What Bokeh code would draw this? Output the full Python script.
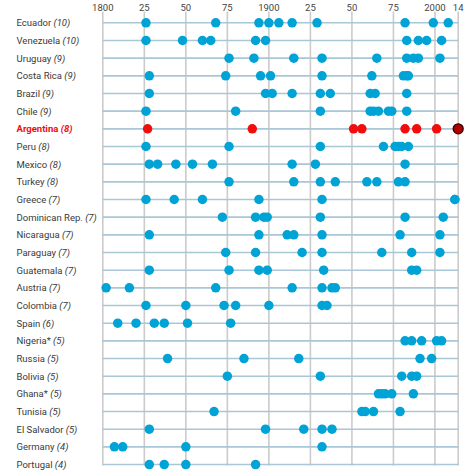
import glob
import subprocess
from bokeh.plotting import figure
from bokeh.models import ColumnDataSource, Range1d, FixedTicker
from bokeh.core.properties import value
from bokeh.embed import file_html
from bokeh.resources import INLINE

# ---------------- data ----------------
countries = ["Ecuador", "Venezuela", "Uruguay", "Costa Rica", "Brazil", "Chile",
             "Argentina", "Peru", "Mexico", "Turkey", "Greece", "Dominican Rep.",
             "Nicaragua", "Paraguay", "Guatemala", "Austria", "Colombia", "Spain",
             "Nigeria*", "Russia", "Bolivia", "Ghana*", "Tunisia", "El Salvador",
             "Germany", "Portugal"]
default_counts = [10, 10, 9, 9, 9, 9, 8, 8, 8, 8, 7, 7, 7, 7, 7, 7, 7, 6,
                  5, 5, 5, 5, 5, 5, 4, 4]
default_years = [
    [1826, 1868, 1894, 1900, 1906, 1914, 1929, 1982, 1999, 2008],   # Ecuador
    [1826, 1848, 1860, 1865, 1892, 1898, 1983, 1990, 1995, 2004],   # Venezuela
    [1876, 1891, 1915, 1932, 1965, 1983, 1987, 1990, 2003],         # Uruguay
    [1828, 1874, 1895, 1901, 1932, 1962, 1981, 1983, 1984],         # Costa Rica
    [1828, 1898, 1902, 1914, 1931, 1937, 1961, 1964, 1983],         # Brazil
    [1826, 1880, 1931, 1961, 1963, 1966, 1972, 1974, 1983],         # Chile
    [1827, 1890, 1951, 1956, 1982, 1989, 2001, 2014],               # Argentina
    [1826, 1876, 1931, 1969, 1976, 1978, 1980, 1984],               # Peru
    [1828, 1833, 1844, 1854, 1866, 1914, 1928, 1982],               # Mexico
    [1876, 1915, 1931, 1940, 1959, 1965, 1978, 1982],               # Turkey
    [1826, 1843, 1860, 1894, 1932, 2012, 2012],                     # Greece
    [1872, 1892, 1897, 1899, 1931, 1982, 2005],                     # Dominican Rep.
    [1828, 1894, 1911, 1915, 1932, 1979, 2003],                     # Nicaragua
    [1874, 1892, 1920, 1932, 1968, 1986, 2003],                     # Paraguay
    [1828, 1876, 1894, 1899, 1933, 1986, 1989],                     # Guatemala
    [1802, 1816, 1868, 1914, 1932, 1938, 1940],                     # Austria
    [1826, 1850, 1873, 1880, 1900, 1932, 1935],                     # Colombia
    [1809, 1820, 1831, 1837, 1851, 1877],                           # Spain
    [1982, 1986, 1992, 2001, 2004],                                 # Nigeria*
    [1839, 1885, 1918, 1991, 1998],                                 # Russia
    [1875, 1931, 1980, 1986, 1989],                                 # Bolivia
    [1966, 1968, 1970, 1974, 1987],                                 # Ghana*
    [1867, 1956, 1958, 1963, 1979],                                 # Tunisia
    [1828, 1898, 1921, 1932, 1938],                                 # El Salvador
    [1807, 1812, 1850, 1932],                                       # Germany
    [1828, 1837, 1850, 1892],                                       # Portugal
]
tick_years = [1800, 1825, 1850, 1875, 1900, 1925, 1950, 1975, 2000, 2014]
tick_labels = ["1800", "25", "50", "75", "1900", "25", "50", "75", "2000", "14"]
highlight_country = "Argentina"
latest_year = 2014

# ---------------- style ----------------
W, H = 472, 475
FONT = "Roboto"
LABEL_SIZE = 9.5
BLUE = "#00a3d6"
RED = "#f20d0d"
DARK_RED = "#b00000"
HLINE = "#a9c7d7"
VLINE = "#cbcbcb"
TEXT = "#3a3a3a"

# pixel geometry of the reference
PX_START, PX_END = 102.3, 457.7       # x pixels of first / last year
ROW0, ROW_STEP = 23.3, 17.63          # y pixel of first row, row spacing
AXIS_H = 12.0                         # approx height of the top axis
LABEL_X = 16.0

ppy = (PX_END - PX_START) / (tick_years[-1] - tick_years[0])
x0 = tick_years[0] - PX_START / ppy
x1 = x0 + W / ppy
y_top = (AXIS_H - ROW0) / ROW_STEP
y_bot = (H - ROW0) / ROW_STEP


# ---------------- text measuring ----------------
def _find_font(patterns):
    for pat in patterns:
        for root in ("/usr/share/fonts", "/usr/local/share/fonts", "/root/.fonts"):
            hits = sorted(glob.glob(root + "/**/" + pat, recursive=True))
            if hits:
                return hits[0]
    return None


def _fc(spec):
    try:
        out = subprocess.run(["fc-match", "-f", "%{file}", spec],
                             capture_output=True, text=True, timeout=5).stdout.strip()
        return out or None
    except Exception:
        return None


try:
    from PIL import ImageFont
    reg_path = _find_font(["Roboto-Regular.ttf"]) or _fc("Roboto:style=Regular")
    bold_path = _find_font(["Roboto-Bold.ttf"]) or _fc("Roboto:style=Bold")
    FONTS = {False: ImageFont.truetype(reg_path, 100) if reg_path else None,
             True: ImageFont.truetype(bold_path, 100) if bold_path else None}
except Exception:
    FONTS = {False: None, True: None}


def text_width(s, bold=False, size=LABEL_SIZE):
    f = FONTS.get(bold)
    if f is not None:
        try:
            return f.getlength(s) / 100.0 * size
        except Exception:
            pass
    return len(s) * (0.56 if bold else 0.53) * size


# ---------------- sources ----------------
names, cnt_txt, ly, name_off, cnt_off, colors, n_style, c_style = [], [], [], [], [], [], [], []
for i, (c, n) in enumerate(zip(countries, default_counts)):
    hi = c == highlight_country
    names.append(c)
    cnt_txt.append("(%d)" % n)
    ly.append(i)
    name_off.append(LABEL_X)
    cnt_off.append(LABEL_X + text_width(c + " ", bold=hi))
    colors.append(RED if hi else TEXT)
    n_style.append("bold" if hi else "normal")
    c_style.append("bold italic" if hi else "italic")

label_src = ColumnDataSource(dict(x=[x0] * len(names), y=ly, name=names, count=cnt_txt,
                                  noff=name_off, coff=cnt_off, color=colors,
                                  nstyle=n_style, cstyle=c_style))

dx, dy, dc = [], [], []
last_x, last_y = [], []
for i, (c, yrs) in enumerate(zip(countries, default_years)):
    hi = c == highlight_country
    for yr in yrs:
        if hi and yr == latest_year:
            last_x.append(yr)
            last_y.append(i)
            continue
        dx.append(yr)
        dy.append(i)
        dc.append(RED if hi else BLUE)
dot_src = ColumnDataSource(dict(x=dx, y=dy, color=dc))

# ---------------- figure ----------------
p = figure(width=W, height=H, x_range=Range1d(x0, x1), y_range=Range1d(y_bot, y_top),
           x_axis_location="above", y_axis_location=None,
           toolbar_location=None, output_backend="svg", min_border=0,
           outline_line_color=None, background_fill_color="white",
           border_fill_color="white")
p.grid.visible = False

ax = p.xaxis[0]
ax.ticker = FixedTicker(ticks=tick_years)
ax.major_label_overrides = {t: l for t, l in zip(tick_years, tick_labels)}
ax.axis_line_color = None
ax.major_tick_line_color = None
ax.minor_tick_line_color = None
ax.major_tick_out = 0
ax.major_tick_in = 0
ax.major_label_standoff = 1
ax.major_label_text_font = FONT
ax.major_label_text_font_size = "9.5px"
ax.major_label_text_color = "#444444"

rows = list(range(len(countries)))
# vertical year lines
p.segment(x0=tick_years, y0=[(10 - ROW0) / ROW_STEP] * len(tick_years),
          x1=tick_years, y1=[len(countries) - 1 + 0.06] * len(tick_years),
          line_color=VLINE, line_width=1.6)
# horizontal country lines
p.segment(x0=[tick_years[0]] * len(rows), y0=rows, x1=[tick_years[-1]] * len(rows), y1=rows,
          line_color=HLINE, line_width=1.6)

p.scatter(x="x", y="y", source=dot_src, size=9.5, fill_color="color", line_color=None)
p.scatter(x=last_x, y=last_y, size=10, fill_color=DARK_RED, line_color="#3a0000", line_width=1.3)

p.text(x="x", y="y", text="name", x_offset="noff", source=label_src,
       text_font=value(FONT), text_font_size=value("%.1fpx" % LABEL_SIZE),
       text_color="color", text_font_style="nstyle",
       text_align="left", text_baseline="middle")
p.text(x="x", y="y", text="count", x_offset="coff", source=label_src,
       text_font=value(FONT), text_font_size=value("%.1fpx" % LABEL_SIZE),
       text_color="color", text_font_style="cstyle",
       text_align="left", text_baseline="middle")

open("out.html", "w").write(file_html(p, INLINE))
